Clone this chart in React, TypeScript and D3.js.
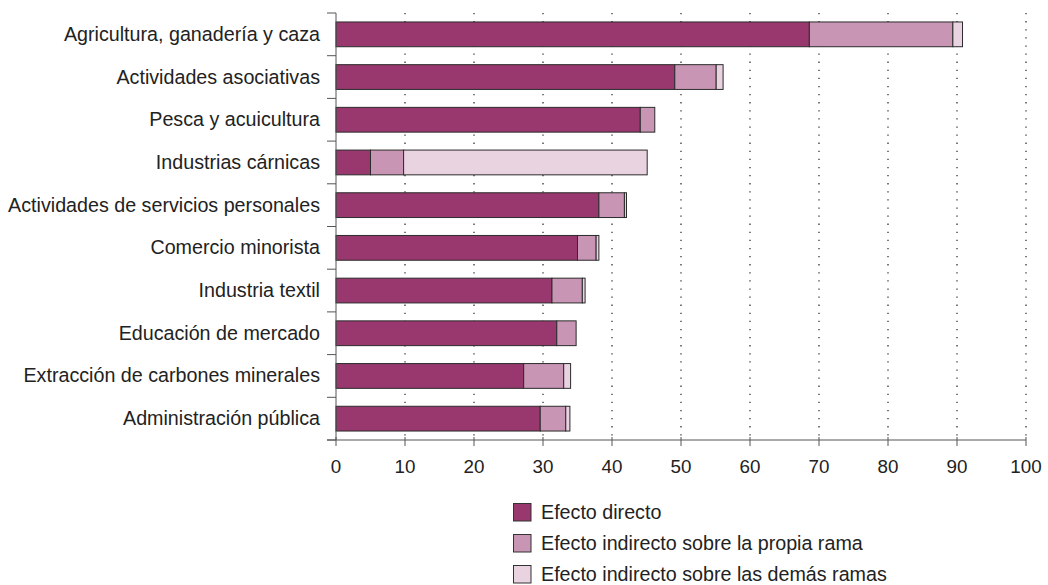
import React from "react";
import * as d3 from "d3";

const categories = [
  "Agricultura, ganadería y caza",
  "Actividades asociativas",
  "Pesca y acuicultura",
  "Industrias cárnicas",
  "Actividades de servicios personales",
  "Comercio minorista",
  "Industria textil",
  "Educación de mercado",
  "Extracción de carbones minerales",
  "Administración pública",
];
const directo = [68.6, 49.1, 44.1, 5.0, 38.1, 35.0, 31.3, 32.0, 27.2, 29.6];
const propia = [20.8, 6.0, 2.1, 4.8, 3.7, 2.7, 4.4, 2.8, 5.8, 3.7];
const demas = [1.4, 1.0, 0.0, 35.3, 0.3, 0.4, 0.4, 0.0, 1.0, 0.6];
const xTicks = [0, 10, 20, 30, 40, 50, 60, 70, 80, 90, 100];
const seriesNames = [
  "Efecto directo",
  "Efecto indirecto sobre la propia rama",
  "Efecto indirecto sobre las demás ramas",
];
const colors = ["#98386F", "#C896B4", "#E9D3E1"];

export default function App() {
  const W = 1048, H = 585;
  const left = 336, right = 1026, top = 13, bottom = 440;
  const x = d3.scaleLinear().domain([0, 100]).range([left, right]);
  const y = d3.scaleBand().domain(categories).range([top, bottom]).paddingInner(0.42).paddingOuter(0.21);
  const series = [directo, propia, demas];
  const stack = categories.map((c, i) => {
    let acc = 0;
    return series.map((s) => {
      const x0 = acc;
      acc += s[i];
      return [x0, acc];
    });
  });
  const step = y.step();
  const font = "'Liberation Sans', Arial, sans-serif";
  const fs = 19.7;
  return (
    <svg width={W} height={H} style={{ position: "absolute", left: 0, top: 0, display: "block" }} fontFamily={font}>
      <rect width={W} height={H} fill="#fff" />
      {xTicks.filter((t) => t > 0).map((t) => (
        <line key={t} x1={x(t)} x2={x(t)} y1={top} y2={bottom} stroke="#222" strokeWidth={1.2} strokeDasharray="1.3,6.8" />
      ))}
      {categories.map((c, i) => (
        <g key={c}>
          {stack[i].map(([a, b], j) =>
            b - a > 0 ? (
              <rect key={j} x={x(a)} y={y(c)!} width={x(b) - x(a)} height={y.bandwidth()} fill={colors[j]} stroke="#2b2b2b" strokeWidth={1} />
            ) : null
          )}
          <text x={320} y={y(c)! + y.bandwidth() / 2 + 6.5} textAnchor="end" fontSize={fs} fill="#222">{c}</text>
        </g>
      ))}
      {d3.range(categories.length + 1).map((k) => (
        <line key={k} x1={327} x2={left} y1={top + k * step} y2={top + k * step} stroke="#555" strokeWidth={1} />
      ))}
      <line x1={left} x2={left} y1={top} y2={bottom} stroke="#555" strokeWidth={1} />
      <line x1={327} x2={right} y1={bottom} y2={bottom} stroke="#555" strokeWidth={1} />
      {xTicks.map((t) => (
        <g key={t}>
          <line x1={x(t)} x2={x(t)} y1={bottom - 3} y2={bottom + 6} stroke="#555" strokeWidth={1} />
          <text x={x(t)} y={bottom + 32.5} textAnchor="middle" fontSize={18.8} fill="#222">{t}</text>
        </g>
      ))}
      {seriesNames.map((n, i) => (
        <g key={n} transform={`translate(513,${503 + i * 31})`}>
          <rect x={0.5} y={0.5} width={17.5} height={17.5} fill={colors[i]} stroke="#333" strokeWidth={1} />
          <text x={28} y={16} fontSize={fs} fill="#222">{n}</text>
        </g>
      ))}
    </svg>
  );
}
